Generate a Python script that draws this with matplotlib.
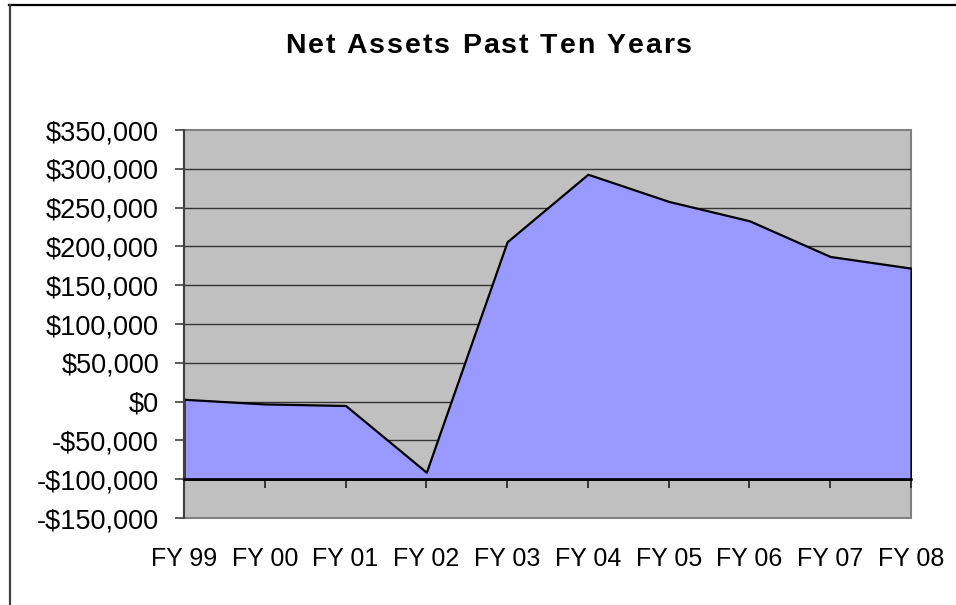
import matplotlib
matplotlib.use("Agg")
import matplotlib.pyplot as plt
from matplotlib.ticker import FuncFormatter
from matplotlib.lines import Line2D
from matplotlib.patches import Rectangle

categories = ["FY 99", "FY 00", "FY 01", "FY 02", "FY 03", "FY 04", "FY 05", "FY 06", "FY 07", "FY 08"]
net_assets = [3000, -3000, -5000, -91000, 206000, 293000, 258000, 233000, 187000, 172000]
y_ticks = [-150000, -100000, -50000, 0, 50000, 100000, 150000, 200000, 250000, 300000, 350000]
title = "Net Assets Past Ten Years"

W, H = 956, 605
plt.rcParams['font.family'] = ['Liberation Sans', 'DejaVu Sans']
fig = plt.figure(figsize=(W / 100, H / 100), dpi=100)
fig.patch.set_facecolor("white")

L, R, T, B = 184, 911, 130, 518
ax = fig.add_axes([L / W, 1 - B / H, (R - L) / W, (B - T) / H])
ax.set_facecolor("#C0C0C0")

x = list(range(len(categories)))
ax.set_xlim(0, len(categories) - 1)
ax.set_ylim(-150000, 350000)

for v in y_ticks:
    if v not in (-150000, -100000, 350000):
        ax.axhline(v, color="#333333", lw=1.0, zorder=1)

ax.fill_between(x, net_assets, -100000, facecolor="#9999FF", edgecolor="black",
                lw=1.6, zorder=2)

# plot-area border
ax.add_patch(Rectangle((0, 0), 1, 1, transform=ax.transAxes, fill=False,
                       edgecolor="#808080", lw=1.5, zorder=0.5, clip_on=False))

for s in ("top", "right"):
    ax.spines[s].set_visible(False)
ax.spines["left"].set_color("#404040")
ax.spines["left"].set_linewidth(1.5)
ax.spines["bottom"].set_position(("data", -100000))
ax.spines["bottom"].set_color("black")
ax.spines["bottom"].set_linewidth(1.8)
ax.spines["bottom"].set_zorder(3)

ax.set_yticks(y_ticks)
ax.yaxis.set_major_formatter(FuncFormatter(
    lambda v, p: ("-$" if v < 0 else "$") + f"{abs(int(v)):,}"))
ax.tick_params(axis="y", direction="out", length=6.5, width=1.2, color="#404040",
               pad=11.5, labelsize=19.5, labelcolor="black")

ax.set_xticks(x)
ax.set_xticklabels(categories)
ax.tick_params(axis="x", direction="out", length=6.5, width=1.2, color="#202020",
               pad=42, labelsize=18, labelcolor="black")
ax.xaxis.get_major_ticks()[0].tick1line.set_visible(False)

# outer chart border
fig.add_artist(Line2D([9 / W, 1], [1 - 5 / H, 1 - 5 / H], color="black", lw=1.6))
fig.add_artist(Line2D([9.5 / W, 9.5 / W], [1 - 5 / H, 0], color="#404040", lw=1.6))

# title with letter tracking
renderer = fig.canvas.get_renderer()
tkw = dict(fontsize=20.5, fontweight="bold", color="black")

def adv(s):
    t1 = fig.text(0, 0, "|" + s + "|", **tkw)
    t2 = fig.text(0, 0, "||", **tkw)
    w = t1.get_window_extent(renderer).width - t2.get_window_extent(renderer).width
    t1.remove(); t2.remove()
    return w

target_w = 407
ws = [adv(c) for c in title]
track = max(0.0, (target_w - sum(ws)) / (len(title) - 1))
total = sum(ws) + track * (len(title) - 1)
xc, base = 488.5, 53
xpos = xc - total / 2
for c, w in zip(title, ws):
    fig.text(xpos / W, 1 - base / H, c, ha="left", va="baseline", **tkw)
    xpos += w + track

fig.savefig("out.png", dpi=100)
